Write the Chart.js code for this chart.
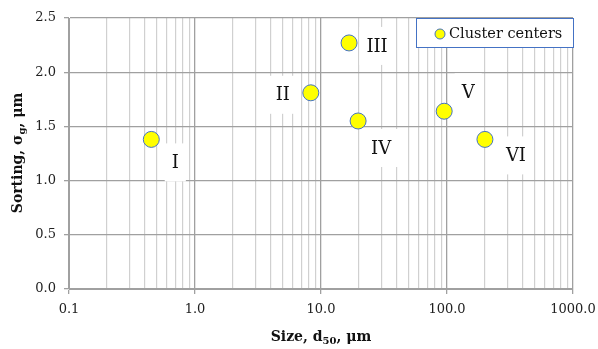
<!DOCTYPE html>
<html>
<head>
<meta charset="utf-8">
<script src="https://cdn.jsdelivr.net/npm/chart.js@4.4.1/dist/chart.umd.min.js"></script>
<style>
  body { margin: 0; background: #fff; }
  canvas { display: block; }
</style>
</head>
<body>
<canvas id="chart" width="598" height="349"></canvas>
<script>
// cluster data
const clusterNames = ['I', 'II', 'III', 'IV', 'V', 'VI'];
const sizes = [0.45, 8.3, 16.7, 19.7, 95, 200];
const sorting = [1.38, 1.81, 2.27, 1.55, 1.64, 1.38];

// axis ticks
const xDecades = [0.1, 1, 10, 100, 1000];
const xTickLabels = ['0.1', '1.0', '10.0', '100.0', '1000.0'];
const yTickLabels = ['0.0', '0.5', '1.0', '1.5', '2.0', '2.5'];

// label offsets from each point (px)
const labelOffsets = [[24, 23], [-28, 2], [28, 3], [23, 27], [24, -19], [31, 16]];

const FONT = '"DejaVu Serif", "Liberation Serif", serif';

function isDecade(v) {
  const l = Math.log10(v);
  return Math.abs(l - Math.round(l)) < 1e-6;
}

// minor ticks 1..9 in every decade
const xTickValues = [];
for (let i = 0; i < xDecades.length - 1; i++) {
  for (let k = 1; k < 10; k++) xTickValues.push(xDecades[i] * k);
}
xTickValues.push(xDecades[xDecades.length - 1]);

// draw text with a subscript part
function drawParts(ctx, parts, cx, cy) {
  let total = 0;
  parts.forEach(p => {
    ctx.font = p.sub ? 'bold 10px ' + FONT : 'bold 14px ' + FONT;
    p.w = ctx.measureText(p.t).width;
    total += p.w;
  });
  let x = cx - total / 2;
  ctx.textAlign = 'left';
  ctx.textBaseline = 'middle';
  parts.forEach(p => {
    ctx.font = p.sub ? 'bold 10px ' + FONT : 'bold 14px ' + FONT;
    ctx.fillText(p.t, x, cy + (p.sub ? 4 : 0));
    x += p.w;
  });
}

const extras = {
  id: 'extras',
  beforeDatasetsDraw(chart) {
    const ctx = chart.ctx;
    const meta = chart.getDatasetMeta(0);
    ctx.save();
    ctx.font = '18px ' + FONT;
    meta.data.forEach((pt, i) => {
      const cx = pt.x + labelOffsets[i][0];
      const cy = pt.y + labelOffsets[i][1];
      const w = ctx.measureText(clusterNames[i]).width + 14;
      ctx.fillStyle = '#fff';
      ctx.fillRect(cx - w / 2, cy - 19, w, 38);
      ctx.fillStyle = '#111';
      ctx.textAlign = 'center';
      ctx.textBaseline = 'middle';
      ctx.fillText(clusterNames[i], cx, cy + 1);
    });
    ctx.restore();
  },
  afterDraw(chart) {
    const ctx = chart.ctx;
    const area = chart.chartArea;
    ctx.save();
    ctx.fillStyle = '#111';
    // axis titles
    drawParts(ctx, [{t: 'Size, d'}, {t: '50', sub: true}, {t: ', μm'}], 321, 337);
    ctx.translate(18, 153);
    ctx.rotate(-Math.PI / 2);
    drawParts(ctx, [{t: 'Sorting, σ'}, {t: 'g', sub: true}, {t: ', μm'}], 0, 0);
    ctx.restore();

    // legend
    ctx.save();
    const lx = 416, ly = area.top, lw = area.right + 1 - 416, lh = 30;
    ctx.fillStyle = '#fff';
    ctx.fillRect(lx, ly, lw, lh);
    ctx.strokeStyle = '#4472C4';
    ctx.lineWidth = 1;
    ctx.strokeRect(lx + 0.5, ly + 0.5, lw - 1, lh - 1);
    ctx.beginPath();
    ctx.arc(440, ly + 16, 5, 0, Math.PI * 2);
    ctx.fillStyle = '#FFFF00';
    ctx.fill();
    ctx.strokeStyle = '#4472C4';
    ctx.stroke();
    ctx.fillStyle = '#111';
    ctx.font = '14.5px ' + FONT;
    ctx.textAlign = 'left';
    ctx.textBaseline = 'middle';
    ctx.fillText('Cluster centers', 449, ly + 16);
    ctx.restore();
  }
};

new Chart(document.getElementById('chart'), {
  type: 'scatter',
  data: {
    datasets: [{
      label: 'Cluster centers',
      data: sizes.map((s, i) => ({x: s, y: sorting[i]})),
      backgroundColor: '#FFFF00',
      borderColor: '#4472C4',
      borderWidth: 1,
      pointRadius: 8,
      pointHoverRadius: 8
    }]
  },
  options: {
    responsive: false,
    devicePixelRatio: 1,
    animation: false,
    layout: { padding: { top: 18, right: 25, left: 0, bottom: 0 } },
    plugins: {
      legend: { display: false },
      tooltip: { enabled: false }
    },
    scales: {
      x: {
        type: 'logarithmic',
        min: 0.1,
        max: 1000,
        afterBuildTicks(scale) {
          scale.ticks = xTickValues.map(v => ({value: v}));
        },
        afterFit(scale) {
          scale.height = 60;
          scale.paddingLeft = 0;
          scale.paddingRight = 0;
        },
        ticks: {
          autoSkip: false,
          maxRotation: 0,
          padding: 8,
          color: '#222',
          font: { family: FONT, size: 13 },
          callback(value) {
            const idx = xDecades.findIndex(d => Math.abs(d - value) / d < 1e-6);
            return idx >= 0 ? xTickLabels[idx] : '';
          }
        },
        grid: {
          color: c => isDecade(c.tick.value) ? '#A0A0A0' : '#D0D0D0',
          tickColor: c => isDecade(c.tick.value) ? '#A0A0A0' : 'rgba(0,0,0,0)',
          tickLength: 5,
          lineWidth: c => isDecade(c.tick.value) ? 1.3 : 1.2
        },
        border: { display: true, color: '#A0A0A0' }
      },
      y: {
        min: 0,
        max: 2.5,
        afterFit(scale) {
          scale.width = 69;
          scale.paddingTop = 0;
          scale.paddingBottom = 0;
        },
        ticks: {
          stepSize: 0.5,
          padding: 8,
          color: '#222',
          font: { family: FONT, size: 13 },
          callback: (value, index) => yTickLabels[index]
        },
        grid: {
          color: '#A0A0A0',
          tickColor: '#A0A0A0',
          tickLength: 5,
          lineWidth: 1.3
        },
        border: { display: true, color: '#A0A0A0' }
      }
    }
  },
  plugins: [extras]
});
</script>
</body>
</html>
